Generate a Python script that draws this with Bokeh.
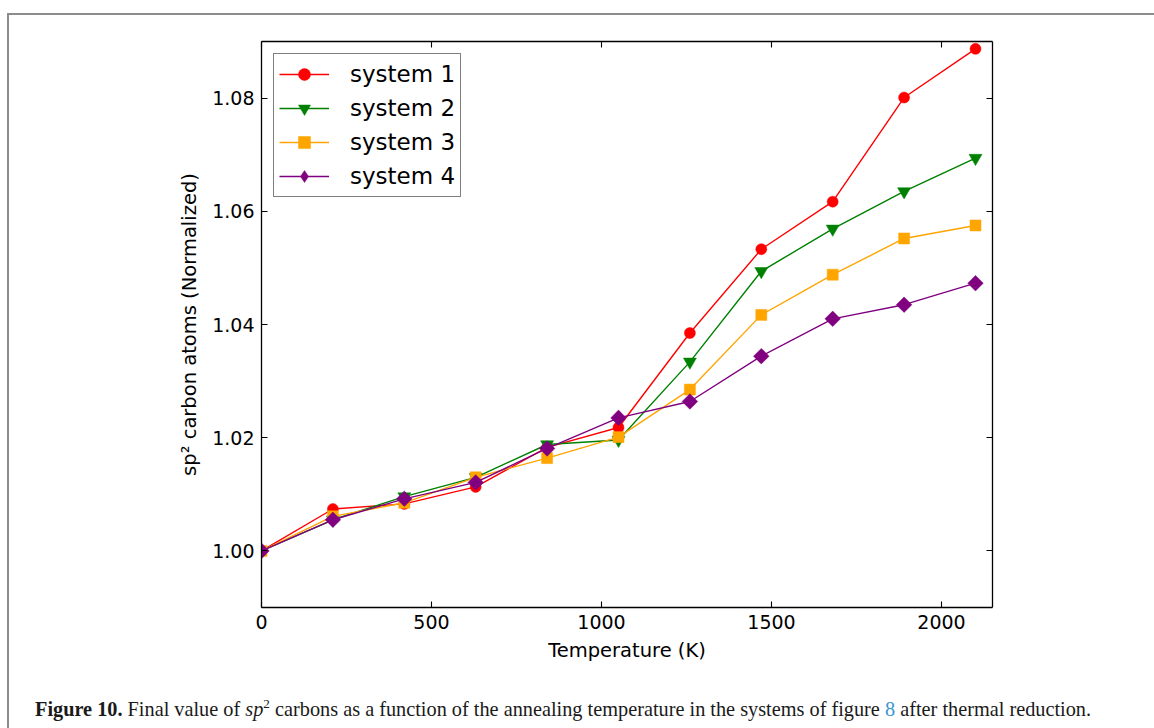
import numpy as np
from bokeh.plotting import figure
from bokeh.layouts import column
from bokeh.models import (Range1d, LinearAxis, FixedTicker, PrintfTickFormatter,
                          Legend, LegendItem, Div)
from bokeh.embed import file_html
from bokeh.resources import INLINE

# ---------------- data ----------------
temperature = [0, 210, 420, 630, 840, 1050, 1260, 1470, 1680, 1890, 2100]
system_1 = [1.000, 1.0074, 1.0083, 1.0113, 1.0183, 1.0218, 1.0385, 1.0533, 1.0617, 1.0801, 1.0887]
system_2 = [1.000, 1.0055, 1.0096, 1.0130, 1.0188, 1.0196, 1.0334, 1.0494, 1.0569, 1.0635, 1.0694]
system_3 = [1.000, 1.0061, 1.0085, 1.0130, 1.0164, 1.0201, 1.0285, 1.0417, 1.0488, 1.0552, 1.0575]
system_4 = [1.000, 1.0055, 1.0092, 1.0121, 1.0181, 1.0235, 1.0264, 1.0344, 1.0410, 1.0435, 1.0473]
series_names = ["system 1", "system 2", "system 3", "system 4"]
x_ticks = [0, 500, 1000, 1500, 2000]
y_ticks = [1.00, 1.02, 1.04, 1.06, 1.08]
x_label = "Temperature (K)"
y_label = "sp\u00b2 carbon atoms (Normalized)"
caption_html = ('<b>Figure 10.</b> Final value of <i>sp</i><sup style="font-size:65%;line-height:0">2</sup> '
                'carbons as a function of the annealing temperature in the systems of figure '
                '<span style="color:#3a96d0">8</span> after thermal reduction.')

# ---------------- styles ----------------
colors = ["#ff0000", "#008000", "#ffa500", "#800080"]
markers = ["circle", "inverted_triangle", "square", "square"]
marker_sizes = [11, 13, 11, 11]
marker_angles = [0, 0, 0, np.pi / 4]

W, H = 1145, 677
p = figure(width=W, height=H, output_backend="svg", toolbar_location=None,
           x_range=Range1d(0, 2150), y_range=Range1d(0.99, 1.09),
           min_border_left=252, min_border_right=162, min_border_top=26, min_border_bottom=85,
           x_axis_label=x_label, y_axis_label=y_label)
p.xgrid.visible = False
p.ygrid.visible = False
p.outline_line_color = None
p.background_fill_color = "white"
p.border_fill_color = "white"


def style_axis(ax, ticks, show_labels):
    ax.ticker = FixedTicker(ticks=ticks)
    ax.major_tick_in = 6
    ax.major_tick_out = 0
    ax.minor_tick_in = 0
    ax.minor_tick_out = 0
    ax.axis_line_color = "black"
    ax.axis_line_width = 1.3
    ax.major_tick_line_color = "black"
    ax.major_tick_line_width = 1.1
    ax.major_label_text_font = "DejaVu Sans"
    ax.major_label_text_font_size = "19px"
    ax.major_label_text_color = "black"
    ax.axis_label_text_font = "DejaVu Sans"
    ax.axis_label_text_font_size = "19.5px"
    ax.axis_label_text_font_style = "normal"
    ax.axis_label_text_color = "black"
    if not show_labels:
        ax.major_label_text_font_size = "0px"
        ax.major_label_text_color = None


xa = p.xaxis[0]
ya = p.yaxis[0]
style_axis(xa, x_ticks, True)
style_axis(ya, y_ticks, True)
ya.formatter = PrintfTickFormatter(format="%.2f")
xa.major_label_standoff = 7
xa.axis_label_standoff = 7
ya.major_label_standoff = 7
ya.axis_label_standoff = 8

top_ax = LinearAxis()
style_axis(top_ax, x_ticks, False)
p.add_layout(top_ax, "above")
right_ax = LinearAxis()
style_axis(right_ax, y_ticks, False)
p.add_layout(right_ax, "right")

# ---------------- series ----------------
all_series = [system_1, system_2, system_3, system_4]
items = []
for i, (name, ys, c, m, s, a) in enumerate(zip(series_names, all_series, colors, markers,
                                                marker_sizes, marker_angles)):
    lr = p.line(temperature, ys, line_color=c, line_width=1.4)
    sr = p.scatter(temperature, ys, marker=m, size=s, angle=a,
                   fill_color=c, line_color=c, line_width=0.5)
    swatch = sr
    if a != 0:
        # legend swatches ignore rotation: use a diamond-shaped swatch renderer with no visible points
        swatch = p.scatter(x=[np.nan], y=[np.nan], marker="diamond", size=19,
                           fill_color=c, line_color=c, line_width=0.5)
    items.append(LegendItem(label=name, renderers=[lr, swatch]))

legend = Legend(items=items, location="top_left", margin=12, padding=5, spacing=4,
                glyph_width=50, glyph_height=30, label_height=30, label_standoff=21,
                label_text_font="DejaVu Sans", label_text_font_size="23px",
                label_text_color="black",
                border_line_color="black", border_line_width=1.2,
                background_fill_color="white", background_fill_alpha=1.0)
p.add_layout(legend)

# ---------------- caption ----------------
caption = Div(text=('<div style="font-family:\'Liberation Serif\',serif;font-size:20.3px;'
                    'line-height:24px;white-space:nowrap;color:#1a1a1a;padding-left:21px;">'
                    + caption_html + '</div>'),
              width=W, height=35)

page = column(p, caption, spacing=0,
              styles={"border-top": "2px solid #8c8c8c", "border-left": "2px solid #8c8c8c",
                      "margin-top": "13px", "margin-left": "7px"})

open("out.html", "w").write(file_html(page, INLINE))
